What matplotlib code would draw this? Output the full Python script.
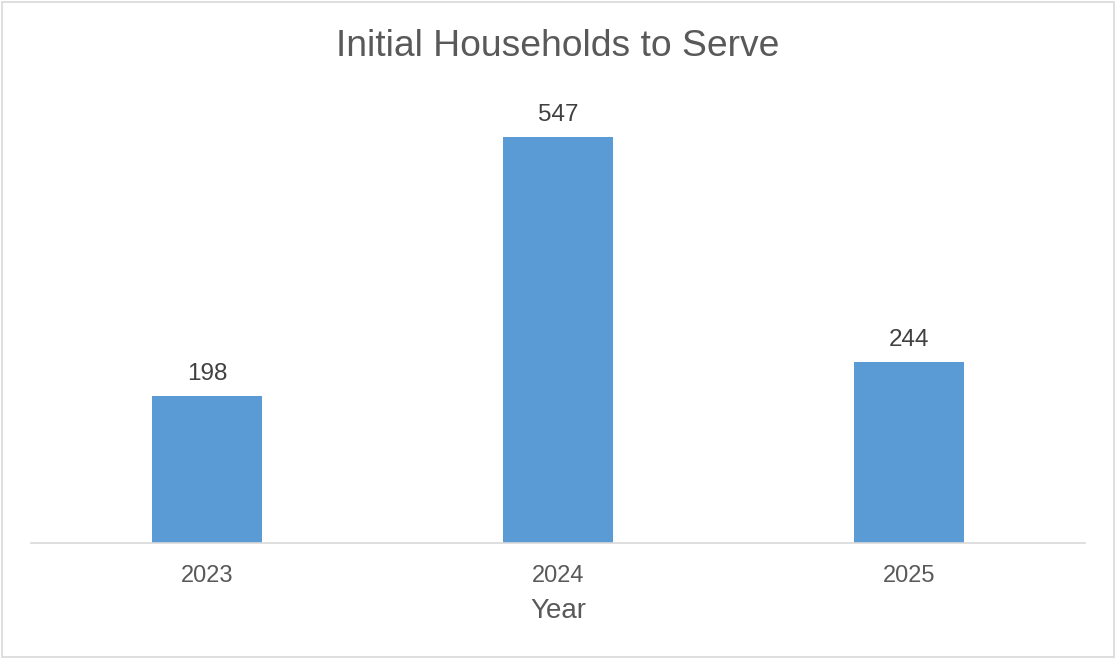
import matplotlib
matplotlib.use("Agg")
import matplotlib.pyplot as plt
from matplotlib.patches import Rectangle

years = ["2023", "2024", "2025"]
households = [198, 547, 244]

BAR_COLOR = "#5B9BD5"
TEXT_COLOR = "#595959"
LINE_COLOR = "#D9D9D9"

plt.rcParams["font.family"] = ["Liberation Sans", "DejaVu Sans"]

fig = plt.figure(figsize=(11.16, 6.59), dpi=100)
ax = fig.add_axes([0.0282, 0.176, 0.9436, 0.675])

x = range(len(years))
bars = ax.bar(x, households, width=0.313, color=BAR_COLOR)
ax.bar_label(bars, labels=[str(v) for v in households], padding=8,
             fontsize=17.5, color="#404040")

ax.set_xlim(-0.5, len(years) - 0.5)
ax.set_ylim(0, 600)
ax.set_xticks(list(x))
ax.set_xticklabels(years, fontsize=17, color=TEXT_COLOR)
ax.tick_params(axis="x", length=0, pad=16)
ax.set_yticks([])
for side in ["top", "right", "left"]:
    ax.spines[side].set_visible(False)
ax.spines["bottom"].set_color(LINE_COLOR)
ax.spines["bottom"].set_linewidth(1.2)

ax.set_xlabel("Year", fontsize=20, color=TEXT_COLOR, labelpad=8)
fig.text(0.5, 0.929, "Initial Households to Serve", ha="center", va="center",
         fontsize=26.8, color=TEXT_COLOR)

# thin chart-area border
fig.patches.append(Rectangle((0.002, 0.003), 0.996, 0.994, transform=fig.transFigure,
                             fill=False, edgecolor=LINE_COLOR, linewidth=1.2))

fig.savefig("out.png", dpi=100)
